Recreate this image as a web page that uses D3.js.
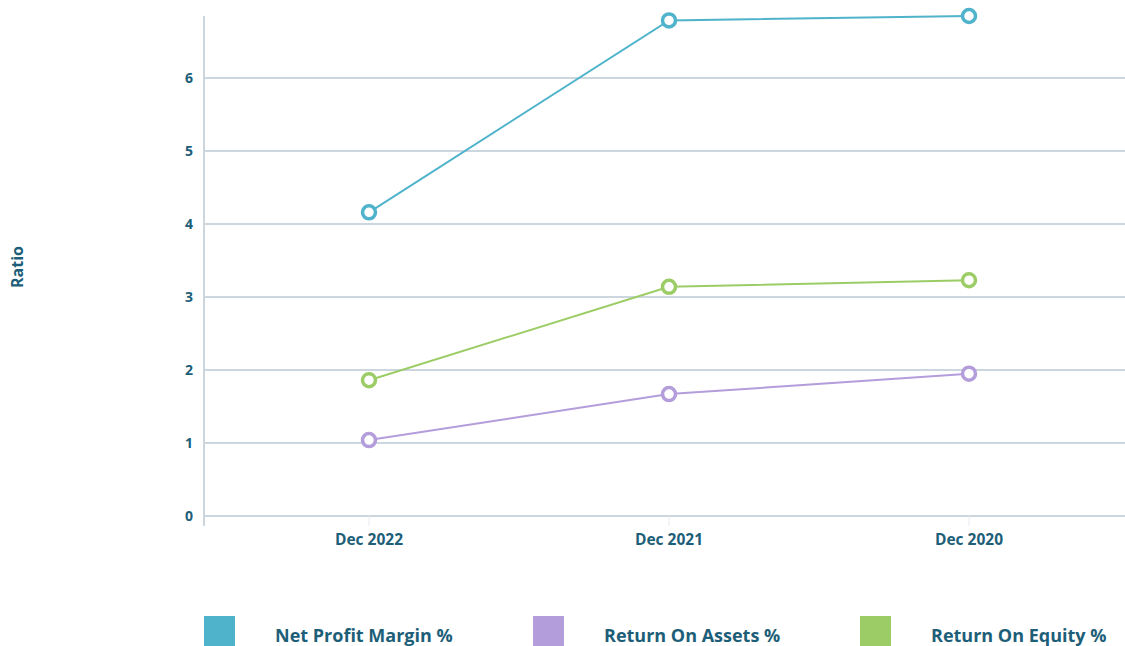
<!DOCTYPE html>
<html>
<head>
<meta charset="utf-8">
<script src="https://cdn.jsdelivr.net/npm/d3@7"></script>
<style>
  body { margin: 0; background: #fff; }
  svg { font-family: "Open Sans", sans-serif; }
</style>
</head>
<body>
<svg id="chart" width="1125" height="646"></svg>
<script>
var categories = ["Dec 2022", "Dec 2021", "Dec 2020"];
var netProfitMargin = [4.16, 6.79, 6.85];
var returnOnAssets = [1.04, 1.67, 1.95];
var returnOnEquity = [1.86, 3.14, 3.23];
var yTicks = [0, 1, 2, 3, 4, 5, 6];
var seriesNames = ["Net Profit Margin %", "Return On Assets %", "Return On Equity %"];
var seriesColors = ["#4eb3cb", "#b39ddb", "#9ccc65"];

var svg = d3.select("#chart");
var textColor = "#1d5e78";
var gridColor = "#ccd6df";

var plotLeft = 204, plotRight = 1125, plotTop = 16, plotBottom = 516;

var x = d3.scalePoint().domain(categories).range([369, 969]);
var y = d3.scaleLinear().domain([0, 6.85]).range([plotBottom, plotTop]);

// grid lines
svg.append("g").selectAll("line")
    .data(yTicks)
    .enter()
    .append("line")
    .attr("x1", plotLeft)
    .attr("x2", plotRight)
    .attr("y1", function(d) { return y(d); })
    .attr("y2", function(d) { return y(d); })
    .attr("stroke", gridColor)
    .attr("stroke-width", 2);

// y axis line
svg.append("line")
    .attr("x1", plotLeft).attr("x2", plotLeft)
    .attr("y1", plotTop).attr("y2", plotBottom + 10)
    .attr("stroke", gridColor)
    .attr("stroke-width", 2);

// x ticks
svg.append("g").selectAll("line")
    .data(categories)
    .enter()
    .append("line")
    .attr("x1", function(d) { return x(d); })
    .attr("x2", function(d) { return x(d); })
    .attr("y1", plotBottom)
    .attr("y2", plotBottom + 10)
    .attr("stroke", "#e6ebf0")
    .attr("stroke-width", 1);

// y tick labels
svg.append("g").selectAll("text")
    .data(yTicks)
    .enter()
    .append("text")
    .attr("x", 193)
    .attr("y", function(d) { return y(d); })
    .attr("dy", ".35em")
    .style("text-anchor", "end")
    .style("font-size", "14px")
    .style("font-weight", "bold")
    .attr("fill", textColor)
    .text(function(d) { return d; });

// x labels
svg.append("g").selectAll("text")
    .data(categories)
    .enter()
    .append("text")
    .attr("x", function(d) { return x(d); })
    .attr("y", 545)
    .style("text-anchor", "middle")
    .style("font-size", "15.5px")
    .style("font-weight", "bold")
    .attr("fill", textColor)
    .text(function(d) { return d; });

// axis title
svg.append("text")
    .attr("transform", "translate(23,267) rotate(-90)")
    .style("text-anchor", "middle")
    .style("font-size", "16px")
    .style("font-weight", "bold")
    .attr("fill", textColor)
    .text("Ratio");

var allSeries = [netProfitMargin, returnOnAssets, returnOnEquity];

var line = d3.line()
    .x(function(d, i) { return x(categories[i]); })
    .y(function(d) { return y(d); });

allSeries.forEach(function(values, s) {
    svg.append("path")
        .datum(values)
        .attr("d", line)
        .attr("fill", "none")
        .attr("stroke", seriesColors[s])
        .attr("stroke-width", 2);

    svg.append("g").selectAll("circle")
        .data(values)
        .enter()
        .append("circle")
        .attr("cx", function(d, i) { return x(categories[i]); })
        .attr("cy", function(d) { return y(d); })
        .attr("r", 6.5)
        .attr("fill", "#fff")
        .attr("stroke", seriesColors[s])
        .attr("stroke-width", 3.5);
});

// legend
var legendX = [204, 533, 860];
var legend = svg.selectAll(".legend")
    .data(seriesNames)
    .enter()
    .append("g")
    .attr("class", "legend")
    .attr("transform", function(d, i) { return "translate(" + legendX[i] + ",616)"; });

legend.append("rect")
    .attr("width", 31)
    .attr("height", 30)
    .style("fill", function(d, i) { return seriesColors[i]; });

legend.append("text")
    .attr("x", 71)
    .attr("y", 20)
    .attr("dy", ".35em")
    .style("font-size", "18px")
    .style("font-weight", "bold")
    .attr("fill", textColor)
    .text(function(d) { return d; });
</script>
</body>
</html>
